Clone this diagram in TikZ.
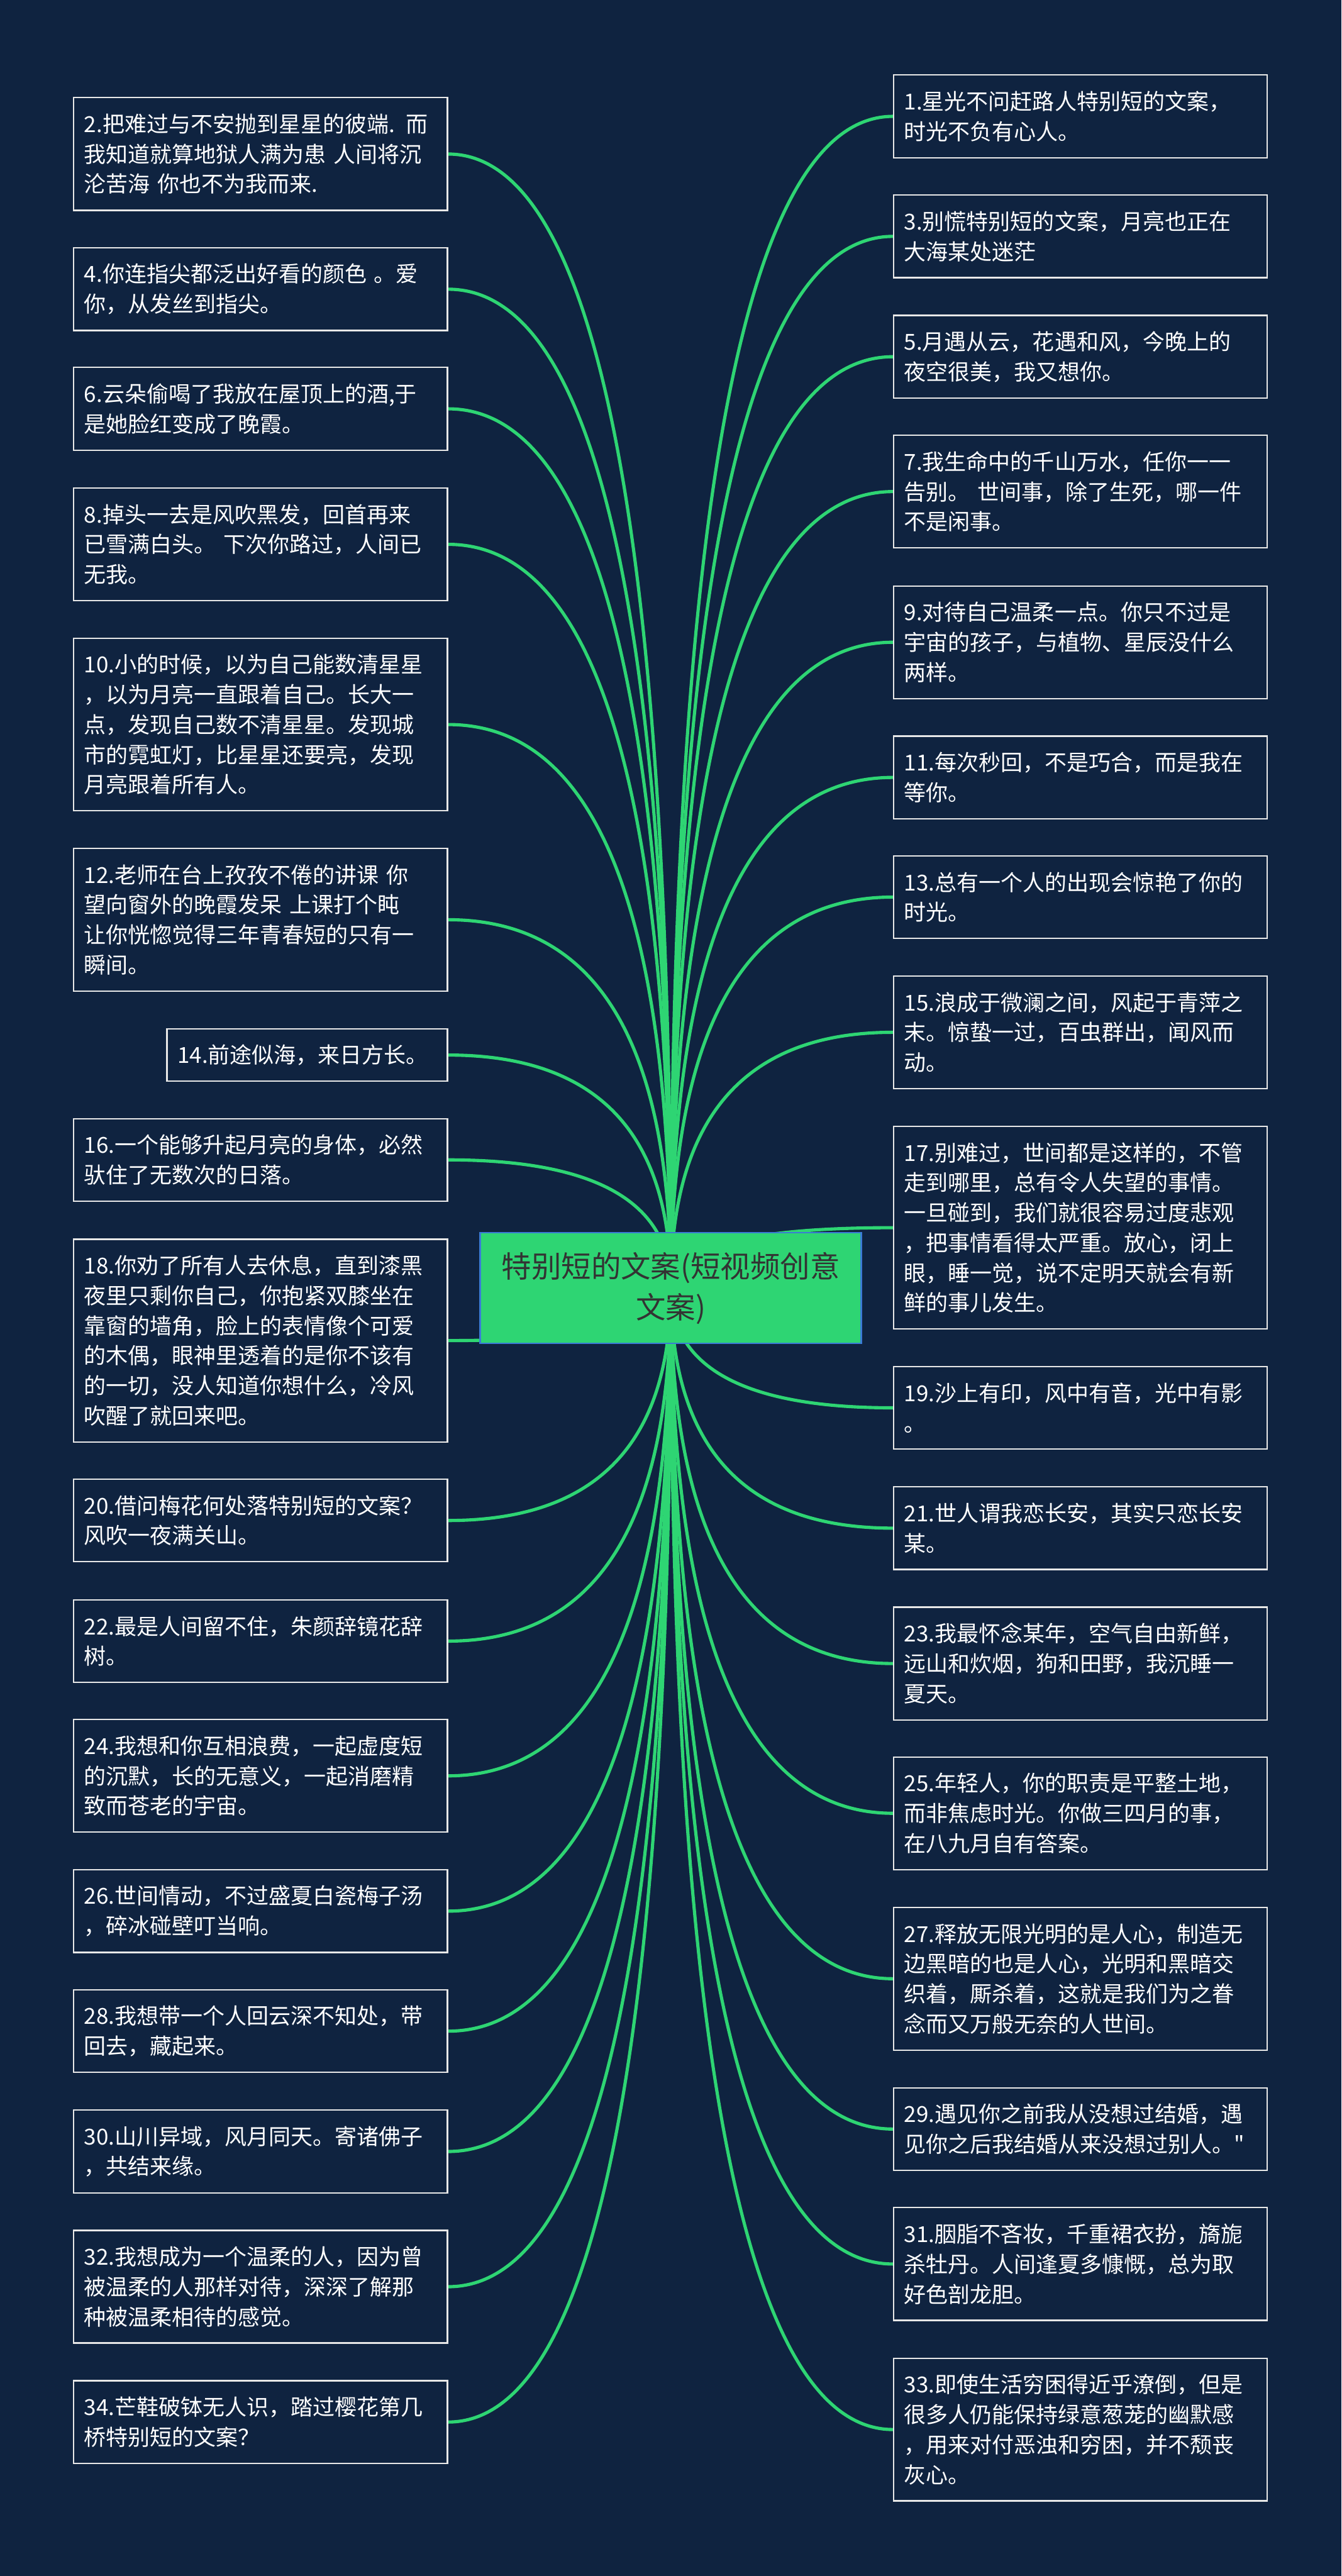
\documentclass[tikz,border=0pt]{standalone}
\usepackage{fontspec}
\usepackage{tikz}
\usetikzlibrary{calc}
\newfontfamily\cjk{Noto Sans CJK SC}
\definecolor{bgnavy}{HTML}{0F2340}
\definecolor{linkgreen}{HTML}{2ED573}
\definecolor{cardline}{HTML}{E8E8E8}
\definecolor{hubblue}{HTML}{3A7BD5}
\definecolor{hubtext}{HTML}{333333}
\pgfdeclarelayer{bg}
\pgfsetlayers{bg,main}
\tikzset{
  card/.style={draw=cardline, line width=0.75pt, fill=bgnavy, text=white, align=left,
               text width=6.73cm, inner xsep=0.2cm, inner ysep=0pt,
               font=\cjk\fontsize{11.95pt}{16.3pt}\selectfont},
  nlines/.style={minimum height={0.43cm+#1*0.573cm}},
  leftcard/.style={card, anchor=east},
  rightcard/.style={card, anchor=west},
  hub/.style={draw=hubblue, line width=0.9pt, fill=linkgreen, text=hubtext, align=center,
              minimum width=7.27cm, minimum height=2.11cm,
              font=\cjk\fontsize{16.2pt}{22.2pt}\selectfont},
  link/.style={draw=linkgreen, line width=1.75pt,
               to path={.. controls ($(\tikztostart)!0.667!(\tikztostart |- \tikztotarget)$)
                        and ($(\tikztotarget)!0.667!(\tikztostart |- \tikztotarget)$) .. (\tikztotarget)}},
}
\begin{document}
\begin{tikzpicture}
  \begin{pgfonlayer}{bg}
    \fill[bgnavy] (0,0) rectangle (25.6,-49.15);
  \end{pgfonlayer}
  \node[hub] (root) at (12.8,-24.575) {特别短的文案(短视频创意\\文案)};
  % left column
  \node[leftcard, nlines=3] (t2) at (8.55,-2.939) {2.把难过与不安抛到星星的彼端. 而\\我知道就算地狱人满为患 人间将沉\\沦苦海 你也不为我而来.};
  \node[leftcard, nlines=2] (t4) at (8.55,-5.518) {4.你连指尖都泛出好看的颜色 。爱\\你，从发丝到指尖。};
  \node[leftcard, nlines=2] (t6) at (8.55,-7.80) {6.云朵偷喝了我放在屋顶上的酒,于\\是她脸红变成了晚霞。};
  \node[leftcard, nlines=3] (t8) at (8.55,-10.386) {8.掉头一去是风吹黑发，回首再来\\已雪满白头。 下次你路过，人间已\\无我。};
  \node[leftcard, nlines=5] (t10) at (8.55,-13.824) {10.小的时候，以为自己能数清星星\\，以为月亮一直跟着自己。长大一\\点，发现自己数不清星星。发现城\\市的霓虹灯，比星星还要亮，发现\\月亮跟着所有人。};
  \node[leftcard, nlines=4] (t12) at (8.55,-17.548) {12.老师在台上孜孜不倦的讲课 你\\望向窗外的晚霞发呆 上课打个盹\\让你恍惚觉得三年青春短的只有一\\瞬间。};
  \node[leftcard, nlines=1, text width=4.95cm] (t14) at (8.55,-20.13) {14.前途似海，来日方长。};
  \node[leftcard, nlines=2] (t16) at (8.55,-22.13) {16.一个能够升起月亮的身体，必然\\驮住了无数次的日落。};
  \node[leftcard, nlines=6] (t18) at (8.55,-25.578) {18.你劝了所有人去休息，直到漆黑\\夜里只剩你自己，你抱紧双膝坐在\\靠窗的墙角，脸上的表情像个可爱\\的木偶，眼神里透着的是你不该有\\的一切，没人知道你想什么，冷风\\吹醒了就回来吧。};
  \node[leftcard, nlines=2] (t20) at (8.55,-29.011) {20.借问梅花何处落特别短的文案？\\风吹一夜满关山。};
  \node[leftcard, nlines=2] (t22) at (8.55,-31.312) {22.最是人间留不住，朱颜辞镜花辞\\树。};
  \node[leftcard, nlines=3] (t24) at (8.55,-33.883) {24.我想和你互相浪费，一起虚度短\\的沉默，长的无意义，一起消磨精\\致而苍老的宇宙。};
  \node[leftcard, nlines=2] (t26) at (8.55,-36.464) {26.世间情动，不过盛夏白瓷梅子汤\\，碎冰碰壁叮当响。};
  \node[leftcard, nlines=2] (t28) at (8.55,-38.754) {28.我想带一个人回云深不知处，带\\回去，藏起来。};
  \node[leftcard, nlines=2] (t30) at (8.55,-41.05) {30.山川异域，风月同天。寄诸佛子\\，共结来缘。};
  \node[leftcard, nlines=3] (t32) at (8.55,-43.63) {32.我想成为一个温柔的人，因为曾\\被温柔的人那样对待，深深了解那\\种被温柔相待的感觉。};
  \node[leftcard, nlines=2] (t34) at (8.55,-46.212) {34.芒鞋破钵无人识，踏过樱花第几\\桥特别短的文案？};
  % right column
  \node[rightcard, nlines=2] (t1) at (17.04,-2.22) {1.星光不问赶路人特别短的文案，\\时光不负有心人。};
  \node[rightcard, nlines=2] (t3) at (17.04,-4.51) {3.别慌特别短的文案，月亮也正在\\大海某处迷茫};
  \node[rightcard, nlines=2] (t5) at (17.04,-6.806) {5.月遇从云，花遇和风，今晚上的\\夜空很美，我又想你。};
  \node[rightcard, nlines=3] (t7) at (17.04,-9.379) {7.我生命中的千山万水，任你一一\\告别。 世间事，除了生死，哪一件\\不是闲事。};
  \node[rightcard, nlines=3] (t9) at (17.04,-12.254) {9.对待自己温柔一点。你只不过是\\宇宙的孩子，与植物、星辰没什么\\两样。};
  \node[rightcard, nlines=2] (t11) at (17.04,-14.833) {11.每次秒回，不是巧合，而是我在\\等你。};
  \node[rightcard, nlines=2] (t13) at (17.04,-17.116) {13.总有一个人的出现会惊艳了你的\\时光。};
  \node[rightcard, nlines=3] (t15) at (17.04,-19.696) {15.浪成于微澜之间，风起于青萍之\\末。惊蛰一过，百虫群出，闻风而\\动。};
  \node[rightcard, nlines=6] (t17) at (17.04,-23.424) {17.别难过，世间都是这样的，不管\\走到哪里，总有令人失望的事情。\\一旦碰到，我们就很容易过度悲观\\，把事情看得太严重。放心，闭上\\眼，睡一觉，说不定明天就会有新\\鲜的事儿发生。};
  \node[rightcard, nlines=2] (t19) at (17.04,-26.861) {19.沙上有印，风中有音，光中有影\\。};
  \node[rightcard, nlines=2] (t21) at (17.04,-29.157) {21.世人谓我恋长安，其实只恋长安\\某。};
  \node[rightcard, nlines=3] (t23) at (17.04,-31.74) {23.我最怀念某年，空气自由新鲜，\\远山和炊烟，狗和田野，我沉睡一\\夏天。};
  \node[rightcard, nlines=3] (t25) at (17.04,-34.597) {25.年轻人，你的职责是平整土地，\\而非焦虑时光。你做三四月的事，\\在八九月自有答案。};
  \node[rightcard, nlines=4] (t27) at (17.04,-37.754) {27.释放无限光明的是人心，制造无\\边黑暗的也是人心，光明和黑暗交\\织着，厮杀着，这就是我们为之眷\\念而又万般无奈的人世间。};
  \node[rightcard, nlines=2] (t29) at (17.04,-40.622) {29.遇见你之前我从没想过结婚，遇\\见你之后我结婚从来没想过别人。"};
  \node[rightcard, nlines=3] (t31) at (17.04,-43.197) {31.胭脂不吝妆，千重裙衣扮，旖旎\\杀牡丹。人间逢夏多慷慨，总为取\\好色剖龙胆。};
  \node[rightcard, nlines=4] (t33) at (17.04,-46.355) {33.即使生活穷困得近乎潦倒，但是\\很多人仍能保持绿意葱茏的幽默感\\，用来对付恶浊和穷困，并不颓丧\\灰心。};
  % links, behind the boxes
  \begin{pgfonlayer}{bg}
    \draw[link] (root.center) to (t2.east);  \draw[link] (root.center) to (t4.east);
    \draw[link] (root.center) to (t6.east);  \draw[link] (root.center) to (t8.east);
    \draw[link] (root.center) to (t10.east); \draw[link] (root.center) to (t12.east);
    \draw[link] (root.center) to (t14.east); \draw[link] (root.center) to (t16.east);
    \draw[link] (root.center) to (t18.east); \draw[link] (root.center) to (t20.east);
    \draw[link] (root.center) to (t22.east); \draw[link] (root.center) to (t24.east);
    \draw[link] (root.center) to (t26.east); \draw[link] (root.center) to (t28.east);
    \draw[link] (root.center) to (t30.east); \draw[link] (root.center) to (t32.east);
    \draw[link] (root.center) to (t34.east);
    \draw[link] (root.center) to (t1.west);  \draw[link] (root.center) to (t3.west);
    \draw[link] (root.center) to (t5.west);  \draw[link] (root.center) to (t7.west);
    \draw[link] (root.center) to (t9.west);  \draw[link] (root.center) to (t11.west);
    \draw[link] (root.center) to (t13.west); \draw[link] (root.center) to (t15.west);
    \draw[link] (root.center) to (t17.west); \draw[link] (root.center) to (t19.west);
    \draw[link] (root.center) to (t21.west); \draw[link] (root.center) to (t23.west);
    \draw[link] (root.center) to (t25.west); \draw[link] (root.center) to (t27.west);
    \draw[link] (root.center) to (t29.west); \draw[link] (root.center) to (t31.west);
    \draw[link] (root.center) to (t33.west);
  \end{pgfonlayer}
\end{tikzpicture}
\end{document}
